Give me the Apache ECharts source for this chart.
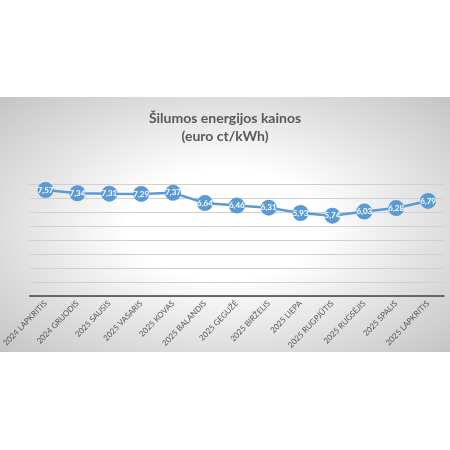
<!DOCTYPE html>
<html>
<head>
    <meta charset="utf-8">
    <title>Šilumos energijos kainos</title>
    <script src="https://cdn.jsdelivr.net/npm/echarts@6/dist/echarts.min.js"></script>
    <style>
        body { margin: 0; background: #fff; }
        #bg {
            position: absolute; left: 0; top: 97px; width: 450px; height: 255px;
            background: radial-gradient(ellipse farthest-corner at 50% 50%, #ffffff 30%, #c4c4c4 100%);
        }
        #main { position: absolute; left: 0; top: 0; width: 450px; height: 450px; }
    </style>
</head>
<body>
    <div id="bg"></div>
    <div id="main"></div>
<script type="text/javascript">
    var categories = ['2024 LAPKRITIS', '2024 GRUODIS', '2025 SAUSIS', '2025 VASARIS', '2025 KOVAS',
        '2025 BALANDIS', '2025 GEGUŽĖ', '2025 BIRŽELIS', '2025 LIEPA', '2025 RUGPJŪTIS',
        '2025 RUGSĖJIS', '2025 SPALIS', '2025 LAPKRITIS'];
    var prices = [7.57, 7.34, 7.31, 7.29, 7.37, 6.64, 6.46, 6.31, 5.93, 5.74, 6.03, 6.28, 6.79];

    var myChart = echarts.init(document.getElementById('main'));

    var option = {
        backgroundColor: 'transparent',
        title: {
            text: 'Šilumos energijos kainos\n(euro ct/kWh)',
            left: 'center',
            top: 104,
            textStyle: {
                fontFamily: 'Lato',
                fontSize: 14,
                fontWeight: 'bold',
                color: '#595959',
                lineHeight: 18
            }
        },
        grid: { left: 24, right: 6, top: 184, bottom: 154 },
        xAxis: {
            type: 'category',
            data: categories,
            axisLine: { lineStyle: { color: '#404040', width: 1.5 } },
            axisTick: { show: false },
            axisLabel: {
                interval: 0,
                rotate: 46,
                fontSize: 8,
                margin: 6,
                color: '#595959',
                fontFamily: 'Lato'
            }
        },
        yAxis: {
            type: 'value',
            min: 0,
            max: 8,
            interval: 1,
            axisLabel: { show: false },
            axisLine: { show: false },
            axisTick: { show: false },
            splitLine: { lineStyle: { color: '#d0d0d0', width: 1 } }
        },
        series: [{
            type: 'line',
            data: prices,
            symbol: 'circle',
            symbolSize: 16,
            itemStyle: { color: '#5b9bd5' },
            lineStyle: { color: '#5b9bd5', width: 2.5 },
            label: {
                show: true,
                position: 'inside',
                color: '#fff',
                fontSize: 8,
                fontFamily: 'Lato',
                fontWeight: 'bold',
                formatter: function (p) { return p.value.toFixed(2).replace('.', ','); }
            }
        }]
    };

    myChart.setOption(option);
</script>
</body>
</html>
